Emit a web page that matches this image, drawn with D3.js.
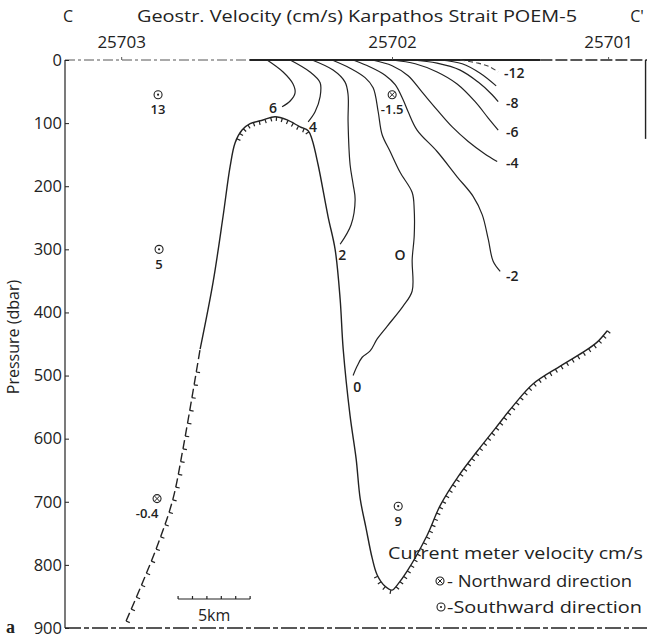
<!DOCTYPE html>
<html><head><meta charset="utf-8">
<script src="https://cdn.jsdelivr.net/npm/d3@7"></script>
<style>body{margin:0;background:#fff}svg text{font-family:"Open Sans",sans-serif;fill:#222}</style>
</head><body>
<svg id="chart" width="648" height="638"></svg>
<script>
// ---------- data (distance km, pressure dbar) ----------
const stationNames = ["25703", "25702", "25701"];
const stationKm = [3.9, 22.7, 37.7];
const pressureTicks = [0, 100, 200, 300, 400, 500, 600, 700, 800, 900];

const topography = [[4.24,889],[5.42,826],[6.60,758],[7.50,695],[8.19,616],[9.38,458],[10.28,352],[10.97,248],[11.46,169],[11.81,131],[12.29,111],[12.85,101],[13.75,95],[14.58,90],[15.42,95],[16.32,106],[16.88,112],[17.15,126],[17.57,166],[18.26,248],[18.75,300],[19.10,379],[19.31,458],[19.79,564],[20.21,632],[20.49,695],[20.90,742],[21.32,789],[21.67,816],[22.22,834],[22.71,840],[23.06,832],[23.75,810],[25.14,753],[26.04,706],[27.29,660],[28.61,620],[29.86,584],[31.11,548],[32.5,513],[34.38,485],[35.97,463],[36.94,447],[37.64,429]];

const contour6 = [[14.03,0],[15.14,19],[15.83,38],[15.97,52],[15.63,65],[15.07,74]];
const contour4 = [[15.63,0],[17.01,19],[17.71,36],[17.71,58],[17.36,82],[16.88,98]];
const contour2 = [[17.15,0],[18.61,16],[19.44,35],[19.65,55],[19.65,98],[19.79,166],[20.0,197],[20.14,221],[19.86,261],[19.1,292]];
const contour0 = [[18.54,0],[19.79,13],[20.83,28],[21.39,44],[21.74,82],[22.01,118],[22.57,145],[23.26,178],[24.1,210],[24.24,237],[24.24,279],[24.1,316],[24.1,366],[23.47,390],[22.36,422],[21.67,442],[21.18,461],[20.63,471],[20.28,485],[20.0,500]];
const contourM2 = [[20.0,0],[21.18,11],[22.22,24],[22.92,39],[23.47,63],[23.82,82],[24.44,111],[25.83,145],[27.22,185],[28.33,216],[28.96,245],[29.38,284],[29.72,319],[30.21,335]];
const contourM4 = [[21.32,0],[22.71,9],[23.82,25],[24.79,51],[25.83,79],[26.88,106],[27.99,129],[29.1,148],[30.0,161]];
const contourM6 = [[22.71,0],[24.31,6],[25.83,19],[27.22,38],[28.47,66],[29.38,92],[30.07,111]];
const contourM8 = [[24.1,0],[25.83,5],[27.43,16],[28.68,35],[29.65,55],[30.07,66]];
const contourM10 = [[26.04,0],[27.57,6],[28.82,21],[29.93,41]];
const contourM12 = [[27.43,0],[28.68,5],[29.51,11],[30.07,19]];

const labelText = ["6", "4", "2", "0", "O", "-2", "-4", "-6", "-8", "-12"];
const labelKm = [14.44, 17.22, 19.24, 20.28, 23.26, 31.04, 31.04, 31.04, 31.04, 31.18];
const labelP = [76, 106, 309, 518, 309, 343, 163, 114, 69, 21];

const meterKm = [6.46, 6.53, 6.39, 22.71, 23.13];
const meterP = [55, 300, 695, 55, 707];
const meterValue = ["13", "5", "-0.4", "-1.5", "9"];
const meterDir = ["S", "S", "N", "N", "S"];

// ---------- setup ----------
const svg = d3.select("#chart");
svg.append("rect").attr("width", 648).attr("height", 638).attr("fill", "#fff");
const x = d3.scaleLinear().domain([0, 40.4]).range([65, 647]);
const y = d3.scaleLinear().domain([0, 900]).range([60, 628]);
const ink = "#222";

// frame
const frame = svg.append("g").attr("fill", "none").attr("stroke", ink);
frame.append("line").attr("x1", x(0)).attr("x2", x(0)).attr("y1", y(0)).attr("y2", y(900)).attr("stroke-width", 1.2);
frame.append("line").attr("x1", x(0)).attr("x2", x(12.8)).attr("y1", y(0)).attr("y2", y(0)).attr("stroke-dasharray", "10,3,3,3").attr("stroke", "#555");
frame.append("line").attr("x1", x(12.8)).attr("x2", x(33)).attr("y1", y(0)).attr("y2", y(0)).attr("stroke-width", 2);
frame.append("line").attr("x1", x(33)).attr("x2", x(40.4)).attr("y1", y(0)).attr("y2", y(0)).attr("stroke-dasharray", "12,3").attr("stroke-width", 1.4);
frame.append("line").attr("x1", x(40.3)).attr("x2", x(40.3)).attr("y1", y(0)).attr("y2", y(125)).attr("stroke-width", 1.4);
frame.append("line").attr("x1", x(0)).attr("x2", x(40.4)).attr("y1", y(900)).attr("y2", y(900)).attr("stroke-dasharray", "16,3,5,3").attr("stroke-width", 1.4);

// left axis
const yAxis = d3.axisLeft(y).tickValues(pressureTicks).tickSizeInner(-4).tickSizeOuter(0).tickPadding(3);
const ga = svg.append("g").attr("transform", `translate(${x(0)},0)`).call(yAxis);
ga.select(".domain").remove();
ga.selectAll(".tick line").attr("stroke", ink);
ga.selectAll(".tick text").attr("font-size", 16.5).attr("fill", "#3a3a3a").style("font-family", "Open Sans");

// top axis (stations)
const xAxis = d3.axisTop(x).tickValues(stationKm).tickFormat((d, i) => stationNames[i]).tickSizeInner(3).tickSizeOuter(0).tickPadding(9);
const gt = svg.append("g").attr("transform", `translate(0,${y(0)})`).call(xAxis);
gt.select(".domain").remove();
gt.selectAll(".tick line").attr("stroke", "#555");
gt.selectAll(".tick text").attr("font-size", 17).attr("fill", "#3a3a3a").style("font-family", "Open Sans");

// title
svg.append("text").attr("x", 68).attr("y", 22).attr("text-anchor", "middle").attr("font-size", 16).text("C");
svg.append("text").attr("x", 137).attr("y", 22).attr("font-size", 16).attr("textLength", 440).attr("lengthAdjust", "spacingAndGlyphs").text("Geostr. Velocity (cm/s) Karpathos Strait POEM-5");
svg.append("text").attr("x", 637).attr("y", 22).attr("text-anchor", "middle").attr("font-size", 16).text("C'");

// y label
svg.append("text").attr("transform", "translate(19,337) rotate(-90)").attr("text-anchor", "middle").attr("font-size", 16).attr("fill", "#333").text("Pressure (dbar)");

// contours
const line = d3.line().x(d => x(d[0])).y(d => y(d[1])).curve(d3.curveCatmullRom.alpha(0.5));
const contours = [contour6, contour4, contour2, contour0, contourM2, contourM4, contourM6, contourM8, contourM10];
svg.append("g").selectAll("path").data(contours).join("path")
  .attr("d", line).attr("fill", "none").attr("stroke", ink).attr("stroke-width", 1.2);
svg.append("path").datum(contourM12).attr("d", line).attr("fill", "none").attr("stroke", "#444").attr("stroke-width", 1.1).attr("stroke-dasharray", "5,3");

// contour labels
svg.append("g").selectAll("text").data(labelText).join("text")
  .attr("x", (d, i) => x(labelKm[i])).attr("y", (d, i) => y(labelP[i]))
  .attr("dy", "0.35em").attr("text-anchor", "middle").attr("font-size", 14).attr("font-weight", 600).text(d => d);

// topography: lower-left flank dashed, rest solid
const splitIdx = 5;
svg.append("path").datum(topography.slice(0, splitIdx + 1)).attr("d", line).attr("fill", "none")
  .attr("stroke", ink).attr("stroke-width", 1.4).attr("stroke-dasharray", "9,4");
const topo = svg.append("path").datum(topography).attr("d", line).attr("fill", "none").attr("stroke", "none");
svg.append("path").datum(topography.slice(splitIdx)).attr("d", line).attr("fill", "none").attr("stroke", ink).attr("stroke-width", 1.4);
const hachure = [{from: 4.0, to: 9.2, step: 13}, {from: 11.9, to: 17.0, step: 6}, {from: 21.7, to: 38, step: 6.5}];
const node = topo.node();
const L = node.getTotalLength();
const ticks = [];
hachure.forEach(h => {
  let s = 0;
  while (s < L) {
    const p = node.getPointAtLength(s);
    const km = x.invert(p.x);
    if (km >= h.from && km <= h.to) {
      const a = node.getPointAtLength(Math.max(0, s - 1.5)), b = node.getPointAtLength(Math.min(L, s + 1.5));
      const dx = b.x - a.x, dy = b.y - a.y, n = Math.hypot(dx, dy) || 1;
      ticks.push([p.x, p.y, p.x - dy / n * 4, p.y + dx / n * 4]);
      s += h.step;
    } else s += 1;
  }
});
svg.append("g").selectAll("line").data(ticks).join("line")
  .attr("x1", d => d[0]).attr("y1", d => d[1]).attr("x2", d => d[2]).attr("y2", d => d[3])
  .attr("stroke", ink).attr("stroke-width", 1.2);

// current meter markers
function marker(g, cx, cy, dir) {
  g.append("circle").attr("cx", cx).attr("cy", cy).attr("r", 4).attr("fill", "#fff").attr("stroke", ink).attr("stroke-width", 1.1);
  if (dir === "S") {
    g.append("circle").attr("cx", cx).attr("cy", cy).attr("r", 1.1).attr("fill", ink);
  } else {
    g.append("path").attr("d", `M${cx-2.6},${cy-2.6}L${cx+2.6},${cy+2.6}M${cx-2.6},${cy+2.6}L${cx+2.6},${cy-2.6}`).attr("stroke", ink).attr("stroke-width", 1);
  }
}
const gm = svg.append("g");
meterValue.forEach((v, i) => {
  const cx = x(meterKm[i]), cy = y(meterP[i]);
  marker(gm, cx, cy, meterDir[i]);
  const off = v === "-0.4" ? -10 : 0;
  gm.append("text").attr("x", cx + off).attr("y", cy + 15).attr("dy", "0.35em").attr("text-anchor", "middle").attr("font-size", 13).attr("font-weight", 600).text(v);
});

// legend
svg.append("text").attr("x", 388).attr("y", 553).attr("dy", "0.35em").attr("font-size", 17).attr("textLength", 255).attr("lengthAdjust", "spacingAndGlyphs").text("Current meter velocity cm/s");
marker(svg, 440, 581, "N");
svg.append("text").attr("x", 447).attr("y", 581).attr("dy", "0.35em").attr("font-size", 16).attr("textLength", 185).attr("lengthAdjust", "spacingAndGlyphs").text("- Northward direction");
marker(svg, 441, 607, "S");
svg.append("text").attr("x", 447).attr("y", 607).attr("dy", "0.35em").attr("font-size", 16).attr("textLength", 195).attr("lengthAdjust", "spacingAndGlyphs").text("-Southward direction");

// scale bar 5 km
const sb = svg.append("g").attr("stroke", ink).attr("stroke-width", 1.2);
const sb0 = 7.85, sbY = 599;
sb.append("line").attr("x1", x(sb0)).attr("x2", x(sb0 + 5)).attr("y1", sbY).attr("y2", sbY);
d3.range(0, 6).forEach(k => sb.append("line").attr("x1", x(sb0 + k)).attr("x2", x(sb0 + k)).attr("y1", sbY).attr("y2", sbY - 3));
svg.append("text").attr("x", x(sb0 + 2.5)).attr("y", 615).attr("dy", "0.35em").attr("text-anchor", "middle").attr("font-size", 16).text("5km");

// panel letter
svg.append("text").attr("x", 6).attr("y", 633).attr("font-size", 18).attr("font-weight", "bold").style("font-family", "Liberation Serif").text("a");
</script>
</body></html>
